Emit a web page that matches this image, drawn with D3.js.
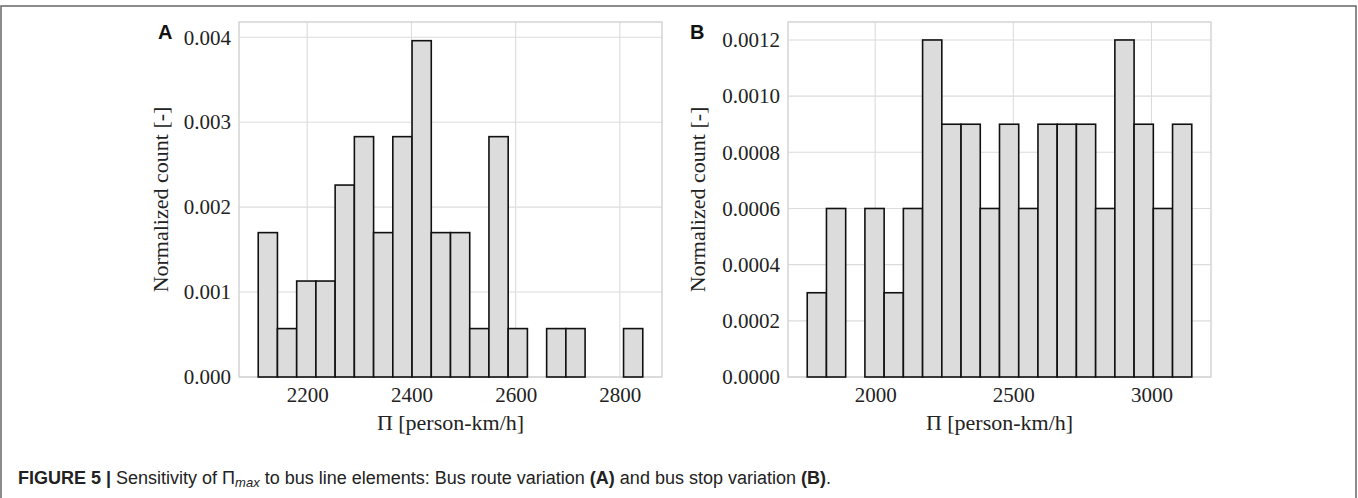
<!DOCTYPE html>
<html>
<head>
<meta charset="utf-8">
<script src="https://cdn.jsdelivr.net/npm/d3@7"></script>
<style>
  html, body { margin: 0; padding: 0; background: #fff; }
  svg { display: block; }
</style>
</head>
<body>
<svg id="fig" width="1358" height="498"></svg>
<script>
// ---------- data ----------
// Panel A: bus route variation, 20 bins between these limits
const binRangeA = [2106, 2844];
const densityA = [0.00170, 0.00057, 0.00113, 0.00113, 0.00226, 0.00283, 0.00170, 0.00283, 0.00396, 0.00170,
                  0.00170, 0.00057, 0.00283, 0.00057, 0, 0.00057, 0.00057, 0, 0, 0.00057];
const xTicksA = [2200, 2400, 2600, 2800];
const yTicksA = [0.000, 0.001, 0.002, 0.003, 0.004];

// Panel B: bus stop variation, 20 bins between these limits
const binRangeB = [1754, 3146];
const densityB = [0.0003, 0.0006, 0, 0.0006, 0.0003, 0.0006, 0.0012, 0.0009, 0.0009, 0.0006,
                  0.0009, 0.0006, 0.0009, 0.0009, 0.0009, 0.0006, 0.0012, 0.0009, 0.0006, 0.0009];
const xTicksB = [2000, 2500, 3000];
const yTicksB = [0.0000, 0.0002, 0.0004, 0.0006, 0.0008, 0.0010, 0.0012];

const xLabel = "\u03A0 [person-km/h]";
const yLabel = "Normalized count [-]";

// ---------- drawing ----------
const svg = d3.select("#fig");
const serif = "'Liberation Serif', 'Times New Roman', serif";

// outer figure frame
svg.append("rect").attr("x", 1).attr("y", 6).attr("width", 1355).attr("height", 520)
  .attr("fill", "none").attr("stroke", "#666").attr("stroke-width", 1.5);

function panel(opts) {
  const { left, right, top, bottom, binRange, density, xTicks, yTicks, yMax, yFmt, letter, letterX, yLabelX } = opts;
  const n = density.length;
  const span = binRange[1] - binRange[0];
  const margin = span * 0.05;
  const x = d3.scaleLinear().domain([binRange[0] - margin, binRange[1] + margin]).range([left, right]);
  const y = d3.scaleLinear().domain([0, yMax]).range([bottom, top]);
  const bw = span / n;
  const bins = density.map((d, i) => ({ x0: binRange[0] + i * bw, x1: binRange[0] + (i + 1) * bw, v: d }));

  const g = svg.append("g");
  // grid
  g.append("g").selectAll("line").data(yTicks).join("line")
    .attr("x1", left).attr("x2", right)
    .attr("y1", d => y(d)).attr("y2", d => y(d))
    .attr("stroke", "#dcdcdc").attr("stroke-width", 1.1);
  g.append("g").selectAll("line").data(xTicks).join("line")
    .attr("y1", top).attr("y2", bottom)
    .attr("x1", d => x(d)).attr("x2", d => x(d))
    .attr("stroke", "#dcdcdc").attr("stroke-width", 1.1);
  // frame
  g.append("rect").attr("x", left).attr("y", top).attr("width", right - left).attr("height", bottom - top)
    .attr("fill", "none").attr("stroke", "#d2d2d2").attr("stroke-width", 1.4);

  // bars
  g.append("g").selectAll("rect").data(bins.filter(b => b.v > 0)).join("rect")
    .attr("x", d => x(d.x0)).attr("width", d => x(d.x1) - x(d.x0))
    .attr("y", d => y(d.v)).attr("height", d => y(0) - y(d.v))
    .attr("fill", "#dcdcdc").attr("stroke", "#111").attr("stroke-width", 1.6);

  // axes (labels only, no tick marks)
  const xAxis = d3.axisBottom(x).tickValues(xTicks).tickFormat(d3.format("d")).tickSize(0).tickPadding(10);
  const xa = g.append("g").attr("transform", `translate(0,${bottom})`).call(xAxis);
  xa.select(".domain").remove();
  xa.selectAll("text").attr("font-family", serif).attr("font-size", 21).attr("fill", "#222");

  const yAxis = d3.axisLeft(y).tickValues(yTicks).tickFormat(d3.format(yFmt)).tickSize(0).tickPadding(8);
  const ya = g.append("g").attr("transform", `translate(${left},0)`).call(yAxis);
  ya.select(".domain").remove();
  ya.selectAll("text").attr("font-family", serif).attr("font-size", 21).attr("fill", "#222");

  // axis titles
  g.append("text").attr("x", (left + right) / 2).attr("y", 430)
    .attr("text-anchor", "middle").attr("font-family", serif).attr("font-size", 22).attr("fill", "#222")
    .text(xLabel);
  g.append("text").attr("transform", `translate(${yLabelX},${(top + bottom) / 2}) rotate(-90)`)
    .attr("text-anchor", "middle").attr("dominant-baseline", "central")
    .attr("font-family", serif).attr("font-size", 22).attr("fill", "#222")
    .text(yLabel);

  // panel letter
  g.append("text").attr("x", letterX).attr("y", 39)
    .attr("font-family", "'Liberation Sans', Arial, sans-serif").attr("font-weight", "bold")
    .attr("font-size", 20).attr("fill", "#111").text(letter);
}

panel({ left: 239, right: 662, top: 22, bottom: 377, binRange: binRangeA, density: densityA,
        xTicks: xTicksA, yTicks: yTicksA, yMax: 0.00418, yFmt: ".3f", letter: "A", letterX: 158, yLabelX: 160 });
panel({ left: 788, right: 1211, top: 22, bottom: 377, binRange: binRangeB, density: densityB,
        xTicks: xTicksB, yTicks: yTicksB, yMax: 0.001264, yFmt: ".4f", letter: "B", letterX: 690, yLabelX: 697 });

// caption
const cap = svg.append("text").attr("x", 18).attr("y", 484)
  .attr("font-family", "'Liberation Sans Narrow', 'Arial Narrow', 'Liberation Sans', sans-serif")
  .attr("font-size", 18).attr("fill", "#222");
cap.append("tspan").attr("font-weight", "bold").text("FIGURE 5 | ");
cap.append("tspan").text("Sensitivity of \u03A0");
cap.append("tspan").attr("font-style", "italic").attr("font-size", 13).attr("dy", 3).text("max");
cap.append("tspan").attr("dy", -3).text(" to bus line elements: Bus route variation ");
cap.append("tspan").attr("font-weight", "bold").text("(A)");
cap.append("tspan").text(" and bus stop variation ");
cap.append("tspan").attr("font-weight", "bold").text("(B)");
cap.append("tspan").text(".");
</script>
</body>
</html>
